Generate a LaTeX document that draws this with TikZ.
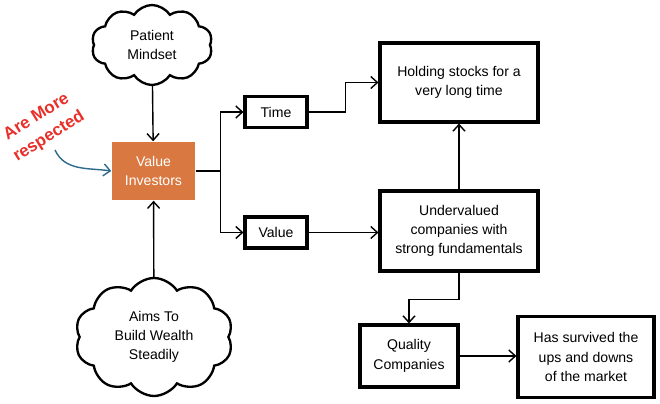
\documentclass[tikz,border=0pt]{standalone}
\usepackage{fontspec}
\setsansfont{Liberation Sans}
\usetikzlibrary{arrows.meta, positioning, shapes.symbols, calc}
\definecolor{corange}{HTML}{D97941}
\definecolor{cred}{HTML}{E8302A}
\definecolor{cblue}{HTML}{2E6A8E}
\tikzset{
  every picture/.style={font=\sffamily, line width=1.2pt},
  box/.style={draw=black, line width=2.6pt, align=center, inner sep=2pt},
  thought/.style={cloud, cloud puffs=10, cloud puff arc=115, cloud ignores aspect, draw=black, line width=2pt, align=center, inner sep=0pt},
  arrow/.style={-{Straight Barb[length=2mm, width=3.6mm]}, draw=black, line width=1.2pt},
  note/.style={font=\sffamily\bfseries\fontsize{14.5}{20}\selectfont, text=cred, align=center},
}
\begin{document}
\begin{tikzpicture}[x=0.03cm, y=-0.03cm, every node/.append style={font=\sffamily\fontsize{12}{16.5}\selectfont}]
  \useasboundingbox (0,0) rectangle (660,404);
  % ---------- left: the investor and what drives it
  \node[thought, minimum width=3.63cm, minimum height=2.4cm] (mind) at (152,45) {Patient\\Mindset};
  \node[fill=corange, text=white, align=center, minimum width=2.49cm, minimum height=1.74cm] (inv) at (153.5,171) {Value\\Investors};
  \node[thought, minimum width=4.74cm, minimum height=3.54cm] (wealth) at (154,337) {Aims To\\Build Wealth\\Steadily};
  \node[note, rotate=32] (resp) at (43,127) {Are More\\respected};
  \coordinate (tail) at (55,150);
  \draw[arrow] (mind) -- (inv);
  \draw[arrow] (wealth) -- (inv);
  \draw[arrow, draw=cblue] (tail) to[out=-65, in=172] (inv.west);
  % ---------- middle: time and value
  \node[box, minimum width=1.86cm, minimum height=0.93cm] (time) at (276,112) {Time};
  \node[box, minimum width=1.86cm, minimum height=0.93cm] (val) at (276,232.5) {Value};
  \draw (inv.east) -- ++(25,0) coordinate (fork);
  \draw[arrow] (fork) |- (time);
  \draw[arrow] (fork) |- (val);
  % ---------- right: outcomes
  \node[box, minimum width=4.74cm, minimum height=2.37cm] (hold) at (459,82.5) {Holding stocks for a\\very long time};
  \node[box, minimum width=4.74cm, minimum height=2.4cm] (under) at (459,231) {Undervalued\\companies with\\strong fundamentals};
  \node[box, minimum width=2.94cm, minimum height=1.86cm] (qual) at (409,356) {Quality\\Companies};
  \node[box, minimum width=4.08cm, minimum height=2.43cm] (surv) at (586,357) {Has survived the\\ups and downs\\of the market};
  \draw[arrow] (time.east) -- ++(37,0) |- (hold);
  \draw[arrow] (val.east) -- (val.east -| under.west);
  \draw[arrow] (under) -- (hold);
  \draw[arrow] (under.south) -- ++(0,27) -| (qual.north);
  \draw[arrow] (qual.east) -- (qual.east -| surv.west);
\end{tikzpicture}
\end{document}
